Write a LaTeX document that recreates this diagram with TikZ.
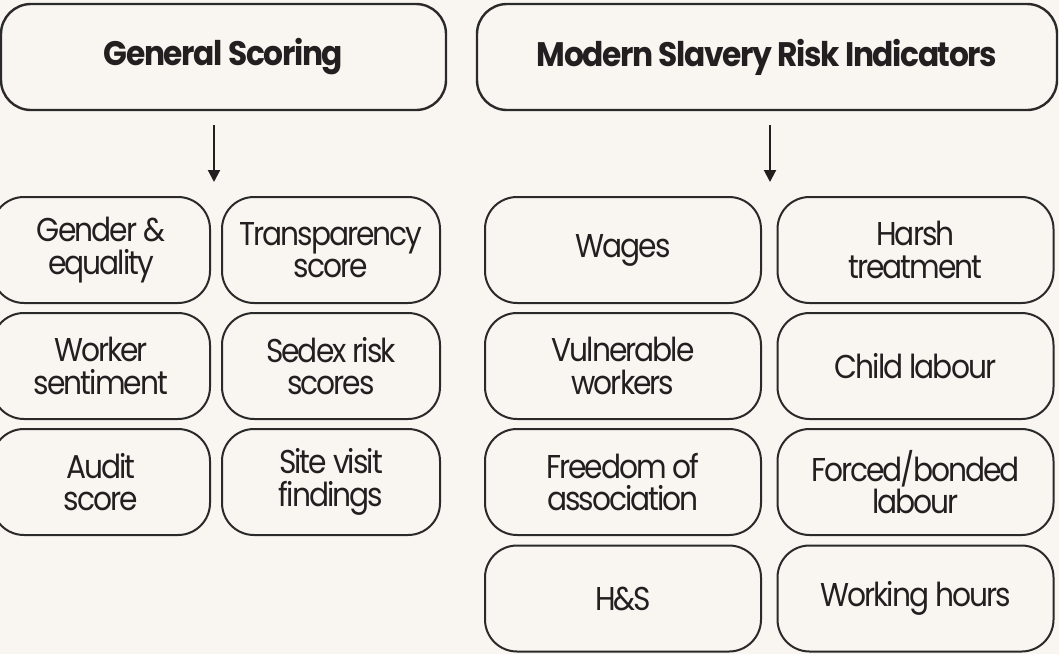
\documentclass[tikz,border=0pt]{standalone}
\usepackage{fontspec}
\setmainfont{Poppins}[LetterSpace=-6, FakeStretch=0.9]
\newfontfamily\headfont{Poppins}[LetterSpace=-4, FakeStretch=0.92]
\usetikzlibrary{arrows.meta}
\definecolor{bg}{HTML}{F9F5F1}
\definecolor{ink}{HTML}{231F20}
\definecolor{edge}{HTML}{2A2A2A}
\tikzset{
  item/.style={draw=edge, line width=2pt, rounded corners=32pt, minimum height=106pt,
    align=center, text=ink, inner sep=0pt, font=\fontsize{33}{32.5}\selectfont},
  smallbox/.style={item, minimum width=218pt},
  widebox/.style={item, minimum width=276pt},
  header/.style={item, line width=2.4pt, rounded corners=30pt, font=\headfont\fontsize{34}{32}\selectfont\bfseries},
  flow/.style={draw=ink, line width=2pt, -{Triangle[length=12pt,width=12pt]}}
}
\begin{document}
\begin{tikzpicture}[x=1pt,y=-1pt]
\fill[bg] (0,0) rectangle (1059,654);
\useasboundingbox (0,0) rectangle (1059,654);
\clip (0,0) rectangle (1059,654);
% headers
\node[header, minimum width=445pt] (gs) at (223.5,57) {General Scoring};
\node[header, minimum width=580pt] (ms) at (767,57) {Modern Slavery Risk Indicators};
% arrows
\coordinate (gsA) at (214,125);
\coordinate (gsB) at (214,182);
\coordinate (msA) at (770,125);
\coordinate (msB) at (770,182);
\draw[flow] (gsA) -- (gsB);
\draw[flow] (msA) -- (msB);
% general scoring items
\node[smallbox] (g1) at (101,250) {Gender \&\\equality};
\node[smallbox] (g2) at (331,250) {Transparency\\score};
\node[smallbox] (g3) at (101,366) {Worker\\sentiment};
\node[smallbox] (g4) at (331,366) {Sedex risk\\scores};
\node[smallbox] (g5) at (101,482) {Audit\\score};
\node[smallbox] (g6) at (331,482) {Site visit\\findings};
% modern slavery items
\node[widebox] (m1) at (623,250) {Wages};
\node[widebox] (m2) at (915.5,250) {Harsh\\treatment};
\node[widebox] (m3) at (623,366) {Vulnerable\\workers};
\node[widebox] (m4) at (915.5,366) {Child labour};
\node[widebox] (m5) at (623,482) {Freedom of\\association};
\node[widebox] (m6) at (915.5,482) {Forced/bonded\\labour};
\node[widebox] (m7) at (623,598.5) {H\&S};
\node[widebox] (m8) at (915.5,598.5) {Working hours};
\end{tikzpicture}
\end{document}
